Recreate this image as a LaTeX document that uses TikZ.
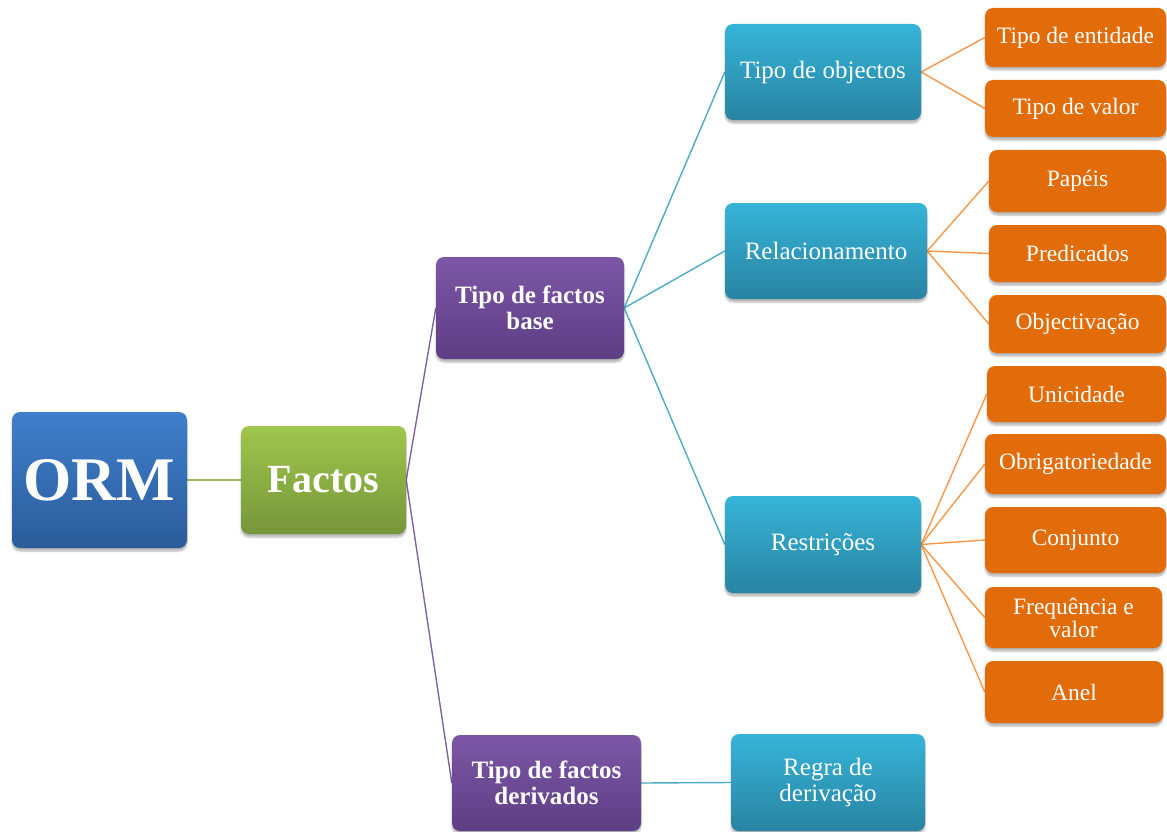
\documentclass[tikz,border=0pt]{standalone}
\usepackage{fontspec}
\setmainfont{Liberation Serif}
\usetikzlibrary{shadows,shadows.blur,backgrounds}

\definecolor{ormtop}{HTML}{3F7FCC}
\definecolor{ormbot}{HTML}{2B5C9A}
\definecolor{grtop}{HTML}{A0C64C}
\definecolor{grbot}{HTML}{76963A}
\definecolor{pptop}{HTML}{7D57A6}
\definecolor{ppbot}{HTML}{5E3E84}
\definecolor{cytop}{HTML}{36B4D8}
\definecolor{cybot}{HTML}{2884A2}
\definecolor{orfill}{HTML}{E36C0A}
\definecolor{grline}{HTML}{9BBB59}
\definecolor{ppline}{HTML}{8064A2}
\definecolor{cyline}{HTML}{4BACC6}
\definecolor{orline}{HTML}{F79646}

\tikzset{
  box/.style={rectangle, rounded corners=8pt, text=white, align=center,
    inner sep=2pt,
    blur shadow={shadow xshift=0pt, shadow yshift=-3pt,
      shadow blur steps=6, shadow opacity=30}},
  rootbox/.style={box, top color=ormtop, bottom color=ormbot,
    font=\bfseries\fontsize{62}{62}\selectfont},
  factbox/.style={box, top color=grtop, bottom color=grbot,
    font=\bfseries\fontsize{40}{40}\selectfont},
  kindbox/.style={box, top color=pptop, bottom color=ppbot,
    font=\bfseries\fontsize{25}{26}\selectfont},
  partbox/.style={box, top color=cytop, bottom color=cybot,
    font=\fontsize{25}{26}\selectfont},
  leafbox/.style={box, fill=orfill,
    font=\fontsize{23.5}{23}\selectfont},
  grlink/.style={draw=grline, line width=2pt},
  pplink/.style={draw=ppline, line width=1.4pt},
  cylink/.style={draw=cyline, line width=1.4pt},
  orlink/.style={draw=orline, line width=1.4pt},
}

\begin{document}
\begin{tikzpicture}[x=1pt, y=-1pt]
\useasboundingbox (0,0) rectangle (1167,832);

% root and first level
\node[rootbox, minimum width=175pt, minimum height=136pt] (orm) at (99.5,480) {ORM};
\node[factbox, minimum width=165pt, minimum height=108pt] (factos) at (323.5,480) {Factos};

% kinds of fact types
\node[kindbox, minimum width=188pt, minimum height=102pt] (base) at (530,308) {Tipo de factos\\base};
\node[kindbox, minimum width=189pt, minimum height=96pt] (deriv) at (546.5,783) {Tipo de factos\\derivados};

% parts
\node[partbox, minimum width=196pt, minimum height=96pt] (obj) at (823,72) {Tipo de objectos};
\node[partbox, minimum width=202pt, minimum height=96pt] (rel) at (826,251) {Relacionamento};
\node[partbox, minimum width=196pt, minimum height=97pt] (res) at (823,544.5) {Restrições};
\node[partbox, minimum width=194pt, minimum height=97pt] (regra) at (828,782.5) {Regra de\\derivação};

% leaves
\node[leafbox, minimum width=181pt, minimum height=59pt] (ent) at (1075.5,37.5) {Tipo de entidade};
\node[leafbox, minimum width=181pt, minimum height=57pt] (val) at (1075.5,108.5) {Tipo de valor};
\node[leafbox, minimum width=177pt, minimum height=62pt] (pap) at (1077.5,181) {Papéis};
\node[leafbox, minimum width=177pt, minimum height=57pt] (pred) at (1077.5,253.5) {Predicados};
\node[leafbox, minimum width=177pt, minimum height=58pt] (objv) at (1077.5,324) {Objectivação};
\node[leafbox, minimum width=179pt, minimum height=56pt] (uni) at (1076.5,394) {Unicidade};
\node[leafbox, minimum width=181pt, minimum height=60pt] (obr) at (1075.5,464) {Obrigatoriedade};
\node[leafbox, minimum width=181pt, minimum height=66pt] (conj) at (1075.5,540) {Conjunto};
\node[leafbox, minimum width=177pt, minimum height=61pt] (freq) at (1073.5,617.5) {Frequência e\\valor};
\node[leafbox, minimum width=178pt, minimum height=62pt] (anel) at (1074,692) {Anel};

% connectors
\begin{scope}[on background layer]
\draw[grlink] (orm.east) -- (factos.west);
\draw[pplink] (factos.east) -- (base.west);
\draw[pplink] (factos.east) -- (deriv.west);
\draw[cylink] (base.east) -- (obj.west);
\draw[cylink] (base.east) -- (rel.west);
\draw[cylink] (base.east) -- (res.west);
\draw[cylink] (deriv.east) -- (regra.west);
\draw[orlink] (obj.east) -- (ent.west);
\draw[orlink] (obj.east) -- (val.west);
\draw[orlink] (rel.east) -- (pap.west);
\draw[orlink] (rel.east) -- (pred.west);
\draw[orlink] (rel.east) -- (objv.west);
\draw[orlink] (res.east) -- (uni.west);
\draw[orlink] (res.east) -- (obr.west);
\draw[orlink] (res.east) -- (conj.west);
\draw[orlink] (res.east) -- (freq.west);
\draw[orlink] (res.east) -- (anel.west);
\end{scope}
\end{tikzpicture}
\end{document}
